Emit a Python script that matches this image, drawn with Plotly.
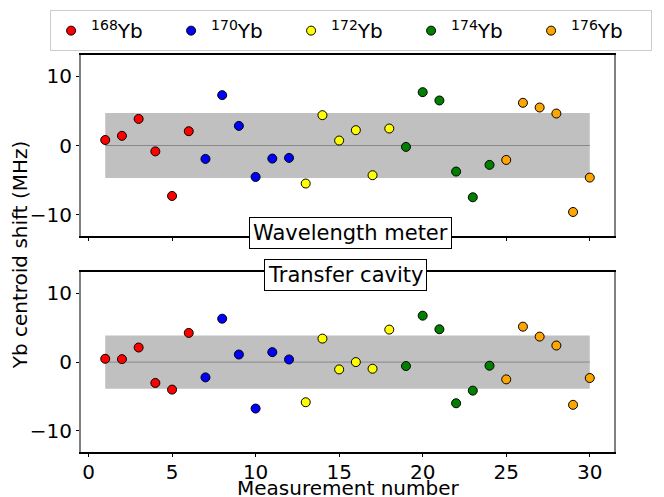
import plotly.graph_objects as go
from plotly.subplots import make_subplots

# Measurement numbers per isotope
iso_labels = ["<sup>168</sup>Yb", "<sup>170</sup>Yb", "<sup>172</sup>Yb", "<sup>174</sup>Yb", "<sup>176</sup>Yb"]
iso_colors = ["red", "blue", "yellow", "green", "orange"]
iso_x = [
    [1, 2, 3, 4, 5, 6],
    [7, 8, 9, 10, 11, 12],
    [13, 14, 15, 16, 17, 18],
    [19, 20, 21, 22, 23, 24],
    [25, 26, 27, 28, 29, 30],
]

# Wavelength meter shifts (MHz)
wm_shift = [
    [0.8, 1.4, 3.85, -0.85, -7.3, 2.07],
    [-1.94, 7.29, 2.84, -4.55, -1.89, -1.79],
    [-5.5, 4.39, 0.72, 2.22, -4.3, 2.46],
    [-0.2, 7.72, 6.52, -3.77, -7.49, -2.8],
    [-2.09, 6.18, 5.5, 4.63, -9.62, -4.64],
]

# Transfer cavity shifts (MHz)
tc_shift = [
    [0.48, 0.43, 2.12, -3.04, -4.01, 4.25],
    [-2.23, 6.32, 1.1, -6.77, 1.45, 0.38],
    [-5.85, 3.42, -1.07, 0.0, -0.97, 4.73],
    [-0.58, 6.76, 4.78, -6.0, -4.16, -0.53],
    [-2.52, 5.16, 3.71, 2.41, -6.23, -2.32],
]

# Band (spread) and zero line extents
band_x = [1, 30]
wm_band = 4.7
tc_band = 3.87
x_ticks = [0, 5, 10, 15, 20, 25, 30]
y_ticks = [-10, 0, 10]

FONT = "DejaVu Sans"

fig = make_subplots(rows=2, cols=1, shared_xaxes=False)

for row, data in ((1, wm_shift), (2, tc_shift)):
    fig.add_trace(go.Scatter(x=band_x, y=[0, 0], mode="lines",
                             line=dict(color="#888888", width=1),
                             showlegend=False, hoverinfo="skip"), row=row, col=1)
    for i in range(5):
        fig.add_trace(go.Scatter(
            x=iso_x[i], y=data[i], mode="markers",
            name=iso_labels[i], showlegend=(row == 1),
            marker=dict(color=iso_colors[i], size=9, line=dict(color="black", width=1)),
            error_y=dict(type="constant", value=0.4, color="black", thickness=1, width=0),
        ), row=row, col=1)

for row, b in ((1, wm_band), (2, tc_band)):
    fig.add_shape(type="rect", x0=band_x[0], x1=band_x[1], y0=-b, y1=b,
                  xref="x" if row == 1 else "x2", yref="y" if row == 1 else "y2",
                  fillcolor="#c0c0c0", line=dict(width=0), layer="below")

axis_common = dict(showline=True, mirror=True, ticks="outside", ticklen=3,
                   tickcolor="black", showgrid=False, zeroline=False,
                   tickfont=dict(family=FONT, size=20, color="black"))

fig.update_xaxes(range=[-0.45, 31.45], tickvals=x_ticks, linecolor="black",
                 linewidth=1.5, automargin=False, ticklabelstandoff=-2, **axis_common)
fig.update_xaxes(showticklabels=False, row=1, col=1)
fig.update_yaxes(range=[-13.1, 13.1], tickvals=y_ticks, linecolor="#808080",
                 linewidth=2, automargin=False, **axis_common)

fig.update_layout(
    width=664, height=497,
    margin=dict(l=81, r=50, t=55, b=45, autoexpand=False),
    plot_bgcolor="white", paper_bgcolor="white",
    yaxis=dict(domain=[0.544, 1.0]),
    yaxis2=dict(domain=[0.0, 0.453]),
    legend=dict(orientation="h", xref="paper", yref="paper",
                x=-0.058, xanchor="left", y=1.113, yanchor="top",
                bordercolor="#cccccc", borderwidth=1, entrywidth=75,
                font=dict(family=FONT, size=20, color="black"), bgcolor="white"),
    annotations=[
        dict(text="Wavelength meter", x=0.505, y=0.552, xref="paper", yref="paper",
             showarrow=False, font=dict(family=FONT, size=21, color="black"),
             bgcolor="white", bordercolor="black", borderwidth=1, borderpad=3),
        dict(text="Transfer cavity", x=0.496, y=0.447, xref="paper", yref="paper",
             showarrow=False, font=dict(family=FONT, size=21, color="black"),
             bgcolor="white", bordercolor="black", borderwidth=1, borderpad=3),
        dict(text="Yb centroid shift (MHz)", x=-0.114, y=0.496, xref="paper", yref="paper",
             xanchor="center", yanchor="middle",
             textangle=-90, showarrow=False, font=dict(family=FONT, size=20, color="black")),
        dict(text="Measurement number", x=0.5, y=-0.09, xref="paper", yref="paper",
             xanchor="center", yanchor="middle", showarrow=False,
             font=dict(family=FONT, size=20, color="black")),
    ],
)

fig.write_html("out.html", config={"displayModeBar": False},
               post_script="document.body.style.margin='0';")
